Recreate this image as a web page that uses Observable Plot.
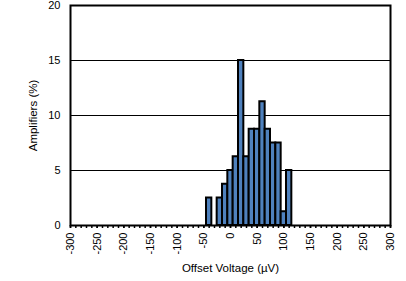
<!DOCTYPE html>
<html><head><meta charset="utf-8">
<script src="https://cdn.jsdelivr.net/npm/d3@7"></script>
<script src="https://cdn.jsdelivr.net/npm/@observablehq/plot@0.6"></script>
<style>body{margin:0;background:#fff} svg{font-family:"Liberation Sans",Arial,sans-serif}</style>
</head><body><div id="chart"></div>
<script>
const binCenters = [-40,-30,-20,-10,0,10,20,30,40,50,60,70,80,90,100,110];
const amplifiersPct = [2.5,0,2.5,3.75,5,6.25,15,6.25,8.75,8.75,11.25,8.75,7.5,7.5,1.25,5];
const binWidth = 10;
const xTicks = d3.range(-300, 301, 50);
const xMinorTicks = d3.range(-300, 301, 10);
const yTicks = [0, 5, 10, 15, 20];
const gridLines = [5, 10, 15];
const data = binCenters.map((c, i) => ({x1: c - binWidth / 2, x2: c + binWidth / 2, y: amplifiersPct[i]})).filter(d => d.y > 0);

const chart = Plot.plot({
  width: 406, height: 281,
  marginLeft: 70, marginRight: 16, marginTop: 5, marginBottom: 56,
  style: {fontSize: "11px", fontFamily: "'Liberation Sans', Arial, sans-serif", background: "#fff", color: "#000"},
  x: {domain: [-300, 300]},
  y: {domain: [0, 20]},
  marks: [
    Plot.ruleY(gridLines, {stroke: "#000", strokeWidth: 1}),
    Plot.rectY(data, {x1: "x1", x2: "x2", y: "y", fill: "#4f81bd", stroke: "#000", strokeWidth: 2}),
    Plot.axisX(xMinorTicks, {tickSize: 3, tickFormat: () => "", label: null, strokeWidth: 1.5}),
    Plot.axisX(xTicks, {tickSize: 3, tickRotate: -90, tickPadding: 4, tickFormat: d => String(d), label: null, strokeWidth: 1.5}),
    Plot.axisX([], {label: "Offset Voltage (µV)", labelArrow: "none", labelAnchor: "center", labelOffset: 46, fontSize: 11.5}),
    Plot.axisY(yTicks, {tickSize: 0, tickPadding: 10, tickFormat: d => String(d), label: null}),
    Plot.axisY([], {label: "Amplifiers (%)", labelArrow: "none", labelAnchor: "center", labelOffset: 42, fontSize: 11.5}),
    Plot.frame({stroke: "#000", strokeWidth: 2})
  ]
});
document.getElementById("chart").appendChild(chart);
</script></body></html>
